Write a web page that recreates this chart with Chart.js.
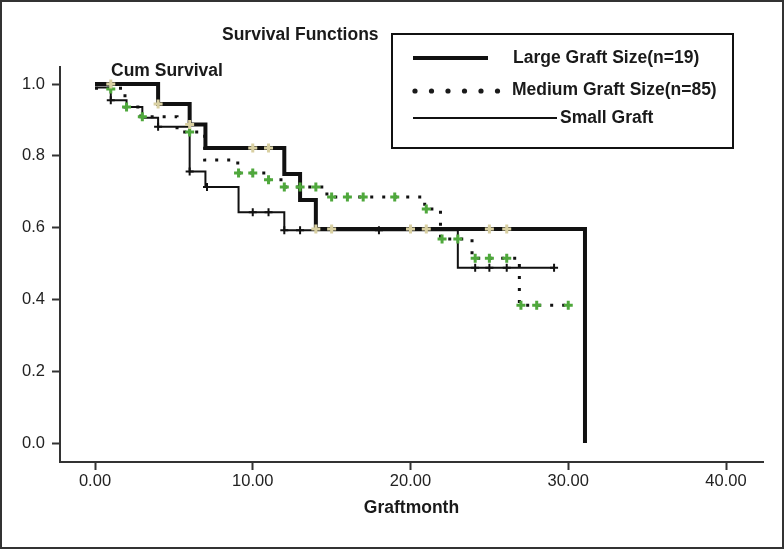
<!DOCTYPE html>
<html><head><meta charset="utf-8">
<style>html,body{margin:0;padding:0;background:#fff;}#wrap{width:784px;height:549px;position:relative;}</style>
<script src="https://cdn.jsdelivr.net/npm/chart.js@4/dist/chart.umd.min.js"></script>
</head><body><div id="wrap"><canvas id="c" width="784" height="549"></canvas></div>
<script>
// ---- data ----
const xTicks = [0, 10, 20, 30, 40];
const yTicks = [0, 0.2, 0.4, 0.6, 0.8, 1.0];
const titleText = 'Survival Functions';
const yLabelText = 'Cum Survival';
const xLabelText = 'Graftmonth';
const seriesNames = ['Large Graft Size(n=19)', 'Medium Graft Size(n=85)', 'Small Graft'];

const largeT = [0, 4, 6, 7, 12, 13, 14, 31.06];
const largeS = [1.0, 0.944, 0.887, 0.822, 0.749, 0.677, 0.596, 0.0];
const largeCensT = [1, 4, 6, 10, 11, 14, 15, 20, 21, 25, 26.1];
const largeCensS = [1.0, 0.944, 0.887, 0.822, 0.822, 0.596, 0.596, 0.596, 0.596, 0.596, 0.596];

const mediumT = [0, 1.9, 2.9, 5.2, 6.95, 9.05, 10.8, 11.9, 14.7, 20.9, 21.9, 23.9, 26.9, 30];
const mediumS = [0.988, 0.936, 0.909, 0.866, 0.788, 0.752, 0.733, 0.713, 0.685, 0.652, 0.568, 0.515, 0.384, 0.384];
const mediumCensT = [1, 2, 3, 6, 9.1, 10, 11, 12, 13, 14, 15, 16, 17, 19, 21, 22, 23, 24.1, 25, 26.1, 27, 28, 30];
const mediumCensS = [0.986, 0.936, 0.909, 0.866, 0.752, 0.752, 0.733, 0.713, 0.713, 0.713, 0.685, 0.685, 0.685, 0.685, 0.652, 0.568, 0.568, 0.515, 0.515, 0.515, 0.384, 0.384, 0.384];

const smallT = [0, 1, 2, 3, 4, 6, 7, 9.1, 12, 23, 29.1];
const smallS = [0.99, 0.955, 0.936, 0.906, 0.881, 0.756, 0.713, 0.643, 0.593, 0.488, 0.488];
const smallCensT = [1, 4, 6, 7.1, 10, 11, 12, 13, 18, 24.1, 25, 26.1, 29.1];
const smallCensS = [0.955, 0.881, 0.756, 0.713, 0.643, 0.643, 0.593, 0.593, 0.593, 0.488, 0.488, 0.488, 0.488];

// ---- helpers ----
const pts = (t, s) => t.map((v, i) => ({x: v, y: s[i]}));
const FONT = '"Liberation Sans", Arial, Helvetica, sans-serif';
const GREEN = '#4fa83c', BEIGE = '#d9d0a2', INK = '#1a1a1a';

const deco = {
  id: 'deco',
  afterDraw(chart) {
    const c = chart.ctx;
    c.save();
    c.fillStyle = INK;
    c.textBaseline = 'middle';
    c.textAlign = 'left';
    c.font = 'bold 17.5px ' + FONT;
    c.fillText(titleText, 222, 35);
    c.fillText(yLabelText, 111, 71);
    // legend box
    c.strokeStyle = '#111';
    c.lineWidth = 2;
    c.strokeRect(392, 34, 341, 114);
    // row 1 thick line
    c.lineWidth = 4;
    c.beginPath(); c.moveTo(413, 58); c.lineTo(488, 58); c.stroke();
    c.fillText(seriesNames[0], 513, 58);
    // row 2 dots
    for (let i = 0; i < 6; i++) {
      c.beginPath(); c.arc(415 + i * 16.5, 91, 2.6, 0, Math.PI * 2); c.fill();
    }
    c.fillText(seriesNames[1], 512, 90);
    // row 3 thin line
    c.lineWidth = 2;
    c.beginPath(); c.moveTo(413, 118); c.lineTo(557, 118); c.stroke();
    c.fillText(seriesNames[2], 560, 118);
    // outer frame
    c.strokeStyle = '#333';
    c.lineWidth = 2;
    c.strokeRect(1, 1, 782, 547);
    c.restore();
  }
};

const cens = (t, s, color, r, w) => ({
  type: 'line', data: pts(t, s), showLine: false,
  pointStyle: 'cross', pointRadius: r, pointHoverRadius: r,
  pointBorderColor: color, pointBackgroundColor: color, pointBorderWidth: w
});

new Chart(document.getElementById('c'), {
  type: 'line',
  data: {
    datasets: [
      cens(largeCensT, largeCensS, BEIGE, 4.5, 3),
      cens(mediumCensT, mediumCensS, GREEN, 4.5, 3),
      cens(smallCensT, smallCensS, '#111', 4, 2),
      { label: seriesNames[0], data: pts(largeT, largeS), stepped: 'before', borderColor: '#111', borderWidth: 4, pointRadius: 0, borderCapStyle: 'butt', fill: false },
      { label: seriesNames[1], data: pts(mediumT, mediumS), stepped: 'before', borderColor: '#111', borderWidth: 3, borderDash: [3, 9], pointRadius: 0, borderCapStyle: 'butt', fill: false },
      { label: seriesNames[2], data: pts(smallT, smallS), stepped: 'before', borderColor: '#111', borderWidth: 2, pointRadius: 0, fill: false }
    ]
  },
  options: {
    responsive: false,
    animation: false,
    devicePixelRatio: 1,
    layout: { padding: { left: 0, right: 21, top: 67, bottom: 0 } },
    plugins: { legend: { display: false }, title: { display: false }, tooltip: { enabled: false } },
    scales: {
      x: {
        type: 'linear', min: -2.219, max: 42.345,
        afterBuildTicks: s => { s.ticks = xTicks.map(v => ({value: v})); },
        afterFit: s => { s.height = 87; },
        grid: { display: true, drawOnChartArea: false, drawTicks: true, tickLength: 8, tickWidth: 2, tickColor: '#333' },
        border: { display: true, color: '#333', width: 2 },
        ticks: { callback: v => Number(v).toFixed(2), font: { family: FONT, size: 16.5 }, color: '#222', padding: 2, maxRotation: 0, autoSkip: false },
        title: { display: true, text: xLabelText, font: { family: FONT, size: 17.5, weight: 'bold' }, color: INK, padding: { top: 0, bottom: 30 } }
      },
      y: {
        type: 'linear', min: -0.0529, max: 1.0474,
        afterBuildTicks: s => { s.ticks = yTicks.map(v => ({value: v})); },
        afterFit: s => { s.width = 60; },
        grid: { display: true, drawOnChartArea: false, drawTicks: true, tickLength: 8, tickWidth: 2, tickColor: '#333' },
        border: { display: true, color: '#333', width: 2 },
        ticks: { callback: v => Number(v).toFixed(1), font: { family: FONT, size: 16.5 }, color: '#222', padding: 7, autoSkip: false }
      }
    }
  },
  plugins: [deco]
});
</script>
</body></html>
